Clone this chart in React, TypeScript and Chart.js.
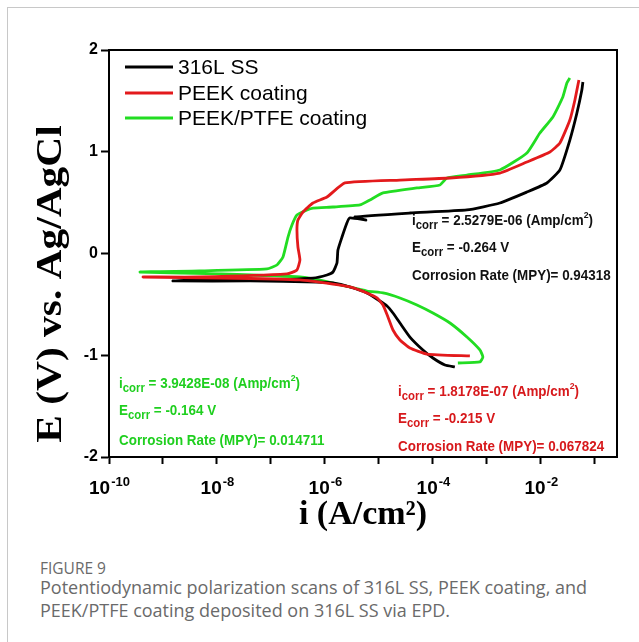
import React, { useEffect, useRef } from 'react';
import { Chart, registerables } from 'chart.js';

Chart.register(...registerables);

// ---------- data (current in A/cm², potential in V vs Ag/AgCl), scan order ----------
const seriesNames = ['316L SS', 'PEEK coating', 'PEEK/PTFE coating'];
const seriesColors = ['#000000', '#e31a1c', '#22dd22'];

const ssCurrent = [2.55e-4, 1.67e-4, 1.0e-4, 6.53e-5, 3.75e-5, 2.45e-5, 1.82e-5, 1.41e-5, 1.04e-5, 6.0e-6, 2.9e-6, 1.41e-6, 7.1e-7, 4.1e-8, 1.53e-9, 4.8e-9, 6.25e-8, 6.0e-7, 1.09e-6, 1.41e-6, 1.67e-6, 1.74e-6, 2.07e-6, 2.55e-6, 2.9e-6, 5.74e-6, 3.6e-6, 3.75e-5, 4.27e-4, 1.74e-3, 5.5e-3, 1.29e-2, 2.25e-2, 3.44e-2, 4.65e-2, 5.74e-2, 6.0e-2];
const ssPotential = [-1.115, -1.096, -1.027, -0.948, -0.821, -0.683, -0.585, -0.516, -0.467, -0.388, -0.329, -0.29, -0.28, -0.27, -0.27, -0.26, -0.26, -0.241, -0.211, -0.182, -0.093, 0.034, 0.162, 0.3, 0.349, 0.329, 0.359, 0.398, 0.428, 0.496, 0.604, 0.693, 0.821, 1.115, 1.381, 1.607, 1.686];

const peekCurrent = [4.84e-4, 7.74e-5, 3.75e-5, 2.45e-5, 1.82e-5, 1.47e-5, 1.19e-5, 9.2e-6, 6.0e-6, 2.9e-6, 1.41e-6, 3.44e-7, 1.14e-8, 4.27e-10, 4.8e-9, 1.98e-7, 3.03e-7, 3.44e-7, 3.16e-7, 3.03e-7, 3.16e-7, 3.92e-7, 6.0e-7, 1.09e-6, 2.34e-6, 2.45e-5, 2.07e-4, 1.74e-3, 5.5e-3, 1.47e-2, 2.25e-2, 3.44e-2, 4.27e-2, 5.06e-2];
const peekPotential = [-1.007, -0.988, -0.929, -0.85, -0.752, -0.624, -0.506, -0.437, -0.388, -0.329, -0.3, -0.26, -0.241, -0.231, -0.231, -0.201, -0.162, -0.064, 0.064, 0.231, 0.329, 0.408, 0.496, 0.555, 0.693, 0.722, 0.742, 0.791, 0.899, 0.998, 1.086, 1.312, 1.509, 1.705];

const ptfeCurrent = [2.9e-4, 7.41e-4, 8.43e-4, 7.41e-4, 4.27e-4, 2.07e-4, 1.0e-4, 5.06e-5, 2.45e-5, 1.19e-5, 6.0e-6, 1.41e-6, 3.44e-7, 1.14e-8, 3.75e-10, 4.8e-9, 8.43e-8, 1.29e-7, 1.67e-7, 2.07e-7, 2.45e-7, 3.03e-7, 4.65e-7, 6.0e-7, 1.41e-6, 4.45e-6, 6.81e-6, 1.19e-5, 5.06e-5, 1.35e-4, 1.82e-4, 4.27e-4, 1.74e-3, 5.5e-3, 9.57e-3, 1.67e-2, 2.55e-2, 3.03e-2, 3.44e-2];
const ptfePotential = [-1.076, -1.066, -1.017, -0.948, -0.821, -0.683, -0.585, -0.506, -0.437, -0.388, -0.369, -0.29, -0.231, -0.201, -0.182, -0.172, -0.152, -0.113, -0.034, 0.162, 0.28, 0.378, 0.428, 0.447, 0.457, 0.477, 0.526, 0.595, 0.644, 0.673, 0.742, 0.771, 0.821, 0.988, 1.184, 1.342, 1.538, 1.676, 1.725];

// axes
const xMin = 1e-10;
const xMax = 0.257;
const xTickExponents = [-10, -9, -8, -7, -6, -5, -4, -3, -2, -1];
const xLabelExponents = [-10, -8, -6, -4, -2];
const yTicks = [-2, -1, 0, 1, 2];
const yMin = -2;
const yMax = 2;

// annotation values
const ssNote = ['2.5279E-06', '-0.264', '0.94318'];
const peekNote = ['1.8178E-07', '-0.215', '0.067824'];
const ptfeNote = ['3.9428E-08', '-0.164', '0.014711'];

const SANS = '"Liberation Sans", Arial, sans-serif';
const SERIF = '"Liberation Serif", "Times New Roman", serif';

type Part = { t: string; sub?: boolean; sup?: boolean };

function noteLines(v: string[]): Part[][] {
  return [
    [{ t: 'i' }, { t: 'corr', sub: true }, { t: ' = ' + v[0] + ' (Amp/cm' }, { t: '2', sup: true }, { t: ')' }],
    [{ t: 'E' }, { t: 'corr', sub: true }, { t: ' = ' + v[1] + ' V' }],
    [{ t: 'Corrosion Rate (MPY)= ' + v[2] }],
  ];
}

function drawRich(ctx: CanvasRenderingContext2D, x: number, y: number, parts: Part[], size: number, sx: number, color: string) {
  ctx.save();
  ctx.translate(x, y);
  ctx.scale(sx, 1);
  ctx.fillStyle = color;
  ctx.textAlign = 'left';
  ctx.textBaseline = 'alphabetic';
  let cx = 0;
  for (const p of parts) {
    const fs = p.sub ? size * 0.85 : p.sup ? size * 0.65 : size;
    ctx.font = `bold ${fs}px ${SANS}`;
    const dy = p.sub ? size * 0.3 : p.sup ? -size * 0.45 : 0;
    ctx.fillText(p.t, cx, dy);
    cx += ctx.measureText(p.t).width;
  }
  ctx.restore();
}

const decorPlugin = {
  id: 'decor',
  afterDraw(chart: any) {
    const { ctx, chartArea } = chart;
    const xs = chart.scales.x;
    ctx.save();
    // top and right frame
    ctx.strokeStyle = '#000';
    ctx.lineWidth = 2;
    ctx.beginPath();
    ctx.moveTo(chartArea.left, chartArea.top);
    ctx.lineTo(chartArea.right, chartArea.top);
    ctx.lineTo(chartArea.right, chartArea.bottom);
    ctx.stroke();

    // x tick labels 10^n
    ctx.fillStyle = '#000';
    ctx.textBaseline = 'alphabetic';
    ctx.textAlign = 'left';
    for (const e of xLabelExponents) {
      const px = xs.getPixelForValue(Math.pow(10, e));
      ctx.font = `bold 19px ${SANS}`;
      const w1 = ctx.measureText('10').width;
      ctx.font = `bold 13px ${SANS}`;
      const w2 = ctx.measureText(String(e)).width;
      const left = px - (w1 + w2) / 2;
      ctx.font = `bold 19px ${SANS}`;
      ctx.fillText('10', left, chartArea.bottom + 37);
      ctx.font = `bold 13px ${SANS}`;
      ctx.fillText(String(e), left + w1 + 1, chartArea.bottom + 29);
    }

    // axis titles
    ctx.font = `bold 34px ${SERIF}`;
    ctx.textAlign = 'center';
    ctx.fillText('i (A/cm²)', (chartArea.left + chartArea.right) / 2, chartArea.bottom + 67);

    ctx.save();
    ctx.translate(52, 284);
    ctx.rotate(-Math.PI / 2);
    ctx.scale(1.15, 1);
    ctx.font = `bold 36px ${SERIF}`;
    ctx.textAlign = 'center';
    ctx.textBaseline = 'middle';
    ctx.fillText('E (V) vs. Ag/AgCl', 0, 0);
    ctx.restore();

    // legend
    const lx = chartArea.left + 16;
    const rows = [chartArea.top + 17, chartArea.top + 43, chartArea.top + 68];
    for (let i = 0; i < seriesNames.length; i++) {
      ctx.strokeStyle = seriesColors[i];
      ctx.lineWidth = 3;
      ctx.beginPath();
      ctx.moveTo(lx, rows[i]);
      ctx.lineTo(lx + 48, rows[i]);
      ctx.stroke();
      ctx.fillStyle = '#000';
      ctx.font = `21px ${SANS}`;
      ctx.textAlign = 'left';
      ctx.textBaseline = 'middle';
      ctx.fillText(seriesNames[i], lx + 53, rows[i] + 1);
    }

    // annotations
    const notes = [
      { v: ssNote, x: 412, y: [225, 252, 280], c: '#111111' },
      { v: ptfeNote, x: 119, y: [388, 415, 445], c: '#1fcf1f' },
      { v: peekNote, x: 398, y: [396, 423, 451], c: '#d7191c' },
    ];
    for (const n of notes) {
      const lines = noteLines(n.v);
      lines.forEach((ln, k) => drawRich(ctx, n.x, n.y[k], ln, 14.5, 0.925, n.c));
    }
    ctx.restore();
  },
};

function zip(xs: number[], ys: number[]) {
  return xs.map((x, i) => ({ x, y: ys[i] }));
}

export default function App() {
  const ref = useRef<HTMLCanvasElement>(null);
  useEffect(() => {
    if (!ref.current) return;
    const chart = new Chart(ref.current, {
      type: 'line',
      data: {
        datasets: [
          { label: seriesNames[0], data: zip(ssCurrent, ssPotential), borderColor: seriesColors[0], order: 2 },
          { label: seriesNames[1], data: zip(peekCurrent, peekPotential), borderColor: seriesColors[1], order: 1 },
          { label: seriesNames[2], data: zip(ptfeCurrent, ptfePotential), borderColor: seriesColors[2], order: 3 },
        ].map((d) => ({ ...d, borderWidth: 2.8, pointRadius: 0, tension: 0.15, fill: false })),
      },
      options: {
        animation: false,
        responsive: false,
        maintainAspectRatio: false,
        layout: { padding: { top: 50, right: 22, left: 0, bottom: 0 } },
        plugins: { legend: { display: false }, tooltip: { enabled: false } },
        scales: {
          x: {
            type: 'logarithmic',
            min: xMin,
            max: xMax,
            position: 'bottom',
            afterBuildTicks: (s: any) => {
              s.ticks = xTickExponents.map((e) => ({ value: Math.pow(10, e) }));
            },
            afterFit: (s: any) => {
              s.height = 83;
            },
            ticks: { display: false },
            grid: { drawOnChartArea: false, drawTicks: true, tickLength: 7, tickWidth: 2, tickColor: '#000' },
            border: { display: true, color: '#000', width: 2 },
          },
          y: {
            type: 'linear',
            min: yMin,
            max: yMax,
            afterBuildTicks: (s: any) => {
              s.ticks = yTicks.map((v) => ({ value: v }));
            },
            afterFit: (s: any) => {
              s.width = 109;
            },
            ticks: { color: '#000', padding: 3, font: { family: SANS, size: 16, weight: 'bold' } },
            grid: { drawOnChartArea: false, drawTicks: true, tickLength: 8, tickWidth: 2, tickColor: '#000' },
            border: { display: true, color: '#000', width: 2 },
          },
        },
      } as any,
      plugins: [decorPlugin],
    });
    return () => chart.destroy();
  }, []);

  return (
    <div style={{ position: 'fixed', left: 0, top: 0, width: 639, height: 642, background: '#fff', overflow: 'hidden' }}>
      <div style={{ position: 'absolute', left: 7, top: 7, width: 700, height: 700, borderLeft: '1px solid #c8c8c8', borderTop: '1px solid #c8c8c8' }} />
      <canvas ref={ref} width={639} height={540} style={{ position: 'absolute', left: 0, top: 0, width: 639, height: 540 }} />
      <div style={{ position: 'absolute', left: 40, top: 559, fontFamily: '"Open Sans", sans-serif', fontSize: 15.5, lineHeight: '18px', color: '#6a6a6a', whiteSpace: 'nowrap' }}>
        FIGURE 9
      </div>
      <div style={{ position: 'absolute', left: 40, top: 576, fontFamily: '"Open Sans", sans-serif', fontSize: 18, lineHeight: '23px', color: '#6a6a6a', whiteSpace: 'nowrap' }}>
        Potentiodynamic polarization scans of 316L SS, PEEK coating, and
        <br />
        PEEK/PTFE coating deposited on 316L SS via EPD.
      </div>
    </div>
  );
}
